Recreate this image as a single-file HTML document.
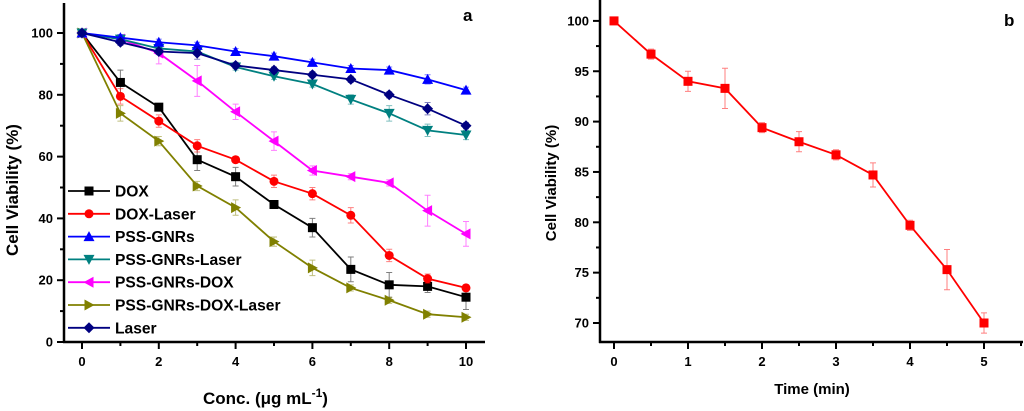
<!DOCTYPE html>
<html><head><meta charset="utf-8">
<style>
html,body{margin:0;padding:0;background:#fff;}
svg{display:block;font-family:"Liberation Sans",Arial,sans-serif;font-weight:bold;}
</style></head>
<body>
<svg id="c" width="1024" height="411" viewBox="0 0 1024 411"></svg>
<script>
// Panel a data
const concCategories=[0,1,2,3,4,5,6,7,8,9,10];
const seriesNames=["DOX","DOX-Laser","PSS-GNRs","PSS-GNRs-Laser","PSS-GNRs-DOX","PSS-GNRs-DOX-Laser","Laser"];
const doxVals=[100,84,76,59,53.5,44.5,37,23.5,18.5,18,14.5];
const doxLaserVals=[100,79.5,71.5,63.5,59,52,48,41,28,20.5,17.5];
const gnrVals=[100,98.5,97,96,94,92.5,90.5,88.5,88,85,81.5];
const gnrLaserVals=[100,98,95,94,89,86,83.5,78.5,74,68.5,67];
const gnrDoxVals=[100,98,93.5,84.5,74.5,65,55.5,53.5,51.5,42.5,35];
const gnrDoxLaserVals=[100,74,65,50.5,43.5,32.5,24,17.5,13.5,9,8];
const laserVals=[100,97,94,93.5,89.5,88,86.5,85,80,75.5,70];
const doxErr=[0,4,1,3.5,3,1.2,3,4,4,2,4];
const doxLaserErr=[0,2.5,2,2,1,2,2,2.5,2,1.5,1];
const gnrErr=[0,1,1,1,1,1,1,1,1,1.5,1];
const gnrLaserErr=[0,1,1,1,1,1,1,1.5,2.5,2,1.5];
const gnrDoxErr=[0,1,3.5,5,2.5,3,1.5,1,1,5,4];
const gnrDoxLaserErr=[0,2.5,1.5,1.5,2.5,1.5,2.5,1,1,1,1];
const laserErr=[0,1,1,2,1,1,1,1,1,2,1];
const yTicksA=[0,20,40,60,80,100];
const xTicksA=[0,2,4,6,8,10];
// Panel b data
const timeCategories=[0,0.5,1,1.5,2,2.5,3,3.5,4,4.5,5];
const timeVals=[100,96.7,94,93.3,89.4,88,86.7,84.7,79.7,75.3,70];
const timeErr=[0,0.5,1,2,0.5,1,0.5,1.2,0.5,2,1];
const yTicksB=[70,75,80,85,90,95,100];
const xTicksB=[0,1,2,3,4,5];

const NS="http://www.w3.org/2000/svg";
const svg=document.getElementById('c');
function el(tag,attrs,parent){const e=document.createElementNS(NS,tag);for(const k in attrs)e.setAttribute(k,attrs[k]);(parent||svg).appendChild(e);return e;}

const xA=v=>82+v*38.4, yA=v=>342-v*3.09;
const xB=v=>614+v*74, yB=v=>323-(v-70)*10.07;

function marker(g,shape,x,y,c){
  let m;const s=4.5;
  if(shape==="sq")m=el('rect',{x:x-s,y:y-s,width:2*s,height:2*s,fill:c},g);
  else if(shape==="ci")m=el('circle',{cx:x,cy:y,r:s,fill:c},g);
  else{let p;
    if(shape==="up")p=[[x,y-s-1],[x+s+1,y+s],[x-s-1,y+s]];
    else if(shape==="dn")p=[[x,y+s+1],[x+s+1,y-s],[x-s-1,y-s]];
    else if(shape==="lf")p=[[x-s-1,y],[x+s,y-s-1],[x+s,y+s+1]];
    else if(shape==="rt")p=[[x+s+1,y],[x-s,y-s-1],[x-s,y+s+1]];
    else p=[[x,y-s-1],[x+s+1,y],[x,y+s+1],[x-s-1,y]];
    m=el('polygon',{points:p.map(q=>q.join(',')).join(' '),fill:c},g);}
  return m;
}

// ---------- Panel a ----------
const ga=el('g',{});
el('line',{x1:64,y1:3,x2:64,y2:343,stroke:'#000','stroke-width':2.5},ga);
el('line',{x1:63,y1:342,x2:485,y2:342,stroke:'#000','stroke-width':2.5},ga);
for(let v=0;v<=100;v+=10){const major=v%20===0;el('line',{x1:major?57:60,y1:yA(v),x2:64,y2:yA(v),stroke:'#000','stroke-width':2},ga);}
yTicksA.forEach(v=>{const t=el('text',{x:53,y:yA(v)+4.5,'text-anchor':'end','font-size':13},ga);t.textContent=v;});
for(let v=0;v<=10;v++){const major=v%2===0;el('line',{x1:xA(v),y1:342,x2:xA(v),y2:major?349:346,stroke:'#000','stroke-width':2},ga);}
xTicksA.forEach(v=>{const t=el('text',{x:xA(v),y:366,'text-anchor':'middle','font-size':13},ga);t.textContent=v;});
let t=el('text',{x:0,y:0,transform:'translate(18,190) rotate(-90)','text-anchor':'middle','font-size':17},ga);t.textContent='Cell Viability (%)';
t=el('text',{x:203,y:404,'font-size':17},ga);t.innerHTML='Conc. (μg mL<tspan dy="-7" font-size="12">-1</tspan><tspan dy="7">)</tspan>';
t=el('text',{x:463,y:21,'font-size':17},ga);t.textContent='a';

const seriesVals=[doxVals,doxLaserVals,gnrVals,gnrLaserVals,gnrDoxVals,gnrDoxLaserVals,laserVals];
const seriesErr=[doxErr,doxLaserErr,gnrErr,gnrLaserErr,gnrDoxErr,gnrDoxLaserErr,laserErr];
const colors=["#000000","#ff0000","#0000ff","#008080","#ff00ff","#808000","#000080"];
const shapes=["sq","ci","up","dn","lf","rt","di"];
const order=[0,1,5,4,3,2,6];
order.forEach(i=>{
  const g=el('g',{},ga);
  const vals=seriesVals[i],err=seriesErr[i],c=colors[i];
  concCategories.forEach((x,k)=>{if(err[k]>0){const X=xA(x);const y1=yA(vals[k]+err[k]),y2=yA(vals[k]-err[k]);
    el('path',{d:`M${X},${y1}V${y2}M${X-3},${y1}H${X+3}M${X-3},${y2}H${X+3}`,stroke:c,'stroke-opacity':0.5,'stroke-width':1,fill:'none'},g);}});
  el('polyline',{points:concCategories.map((x,k)=>xA(x)+','+yA(vals[k])).join(' '),fill:'none',stroke:c,'stroke-width':1.8},g);
  concCategories.forEach((x,k)=>{const m=marker(g,shapes[i],xA(x),yA(vals[k]),c);});
});
const lg=el('g',{},ga);
seriesNames.forEach((n,i)=>{const y=191+i*22.8;
  const e=el('g',{},lg);
  el('line',{x1:68,y1:y,x2:110,y2:y,stroke:colors[i],'stroke-width':1.8},e);
  marker(e,shapes[i],89,y,colors[i]);
  const tt=el('text',{x:115,y:y+5.5,'font-size':15.6},e);tt.textContent=n;});

// ---------- Panel b ----------
const gb=el('g',{});
el('line',{x1:600,y1:0,x2:600,y2:343,stroke:'#000','stroke-width':2.5},gb);
el('line',{x1:599,y1:342,x2:1023,y2:342,stroke:'#000','stroke-width':2.5},gb);
for(let v=70;v<=100;v+=2.5){const major=v%5===0;el('line',{x1:major?593:596,y1:yB(v),x2:600,y2:yB(v),stroke:'#000','stroke-width':2},gb);}
yTicksB.forEach(v=>{const t=el('text',{x:589,y:yB(v)+4.5,'text-anchor':'end','font-size':13},gb);t.textContent=v;});
for(let v=0;v<=5.5;v+=0.5){const major=v%1===0;el('line',{x1:xB(v),y1:342,x2:xB(v),y2:major?349:346,stroke:'#000','stroke-width':2},gb);}
xTicksB.forEach(v=>{const t=el('text',{x:xB(v),y:366,'text-anchor':'middle','font-size':13},gb);t.textContent=v;});
t=el('text',{x:0,y:0,transform:'translate(556,183) rotate(-90)','text-anchor':'middle','font-size':15},gb);t.textContent='Cell Viability (%)';
t=el('text',{x:812,y:394,'text-anchor':'middle','font-size':15},gb);t.textContent='Time (min)';
t=el('text',{x:1004,y:26,'font-size':17},gb);t.textContent='b';
const gs=el('g',{},gb);
timeCategories.forEach((x,k)=>{if(timeErr[k]>0){const X=xB(x);const y1=yB(timeVals[k]+timeErr[k]),y2=yB(timeVals[k]-timeErr[k]);
  el('path',{d:`M${X},${y1}V${y2}M${X-3},${y1}H${X+3}M${X-3},${y2}H${X+3}`,stroke:'#ff0000','stroke-opacity':0.5,'stroke-width':1,fill:'none'},gs);}});
el('polyline',{points:timeCategories.map((x,k)=>xB(x)+','+yB(timeVals[k])).join(' '),fill:'none',stroke:'#ff0000','stroke-width':1.8},gs);
timeCategories.forEach((x,k)=>{const m=marker(gs,'sq',xB(x),yB(timeVals[k]),'#ff0000');});
</script>
</body></html>
